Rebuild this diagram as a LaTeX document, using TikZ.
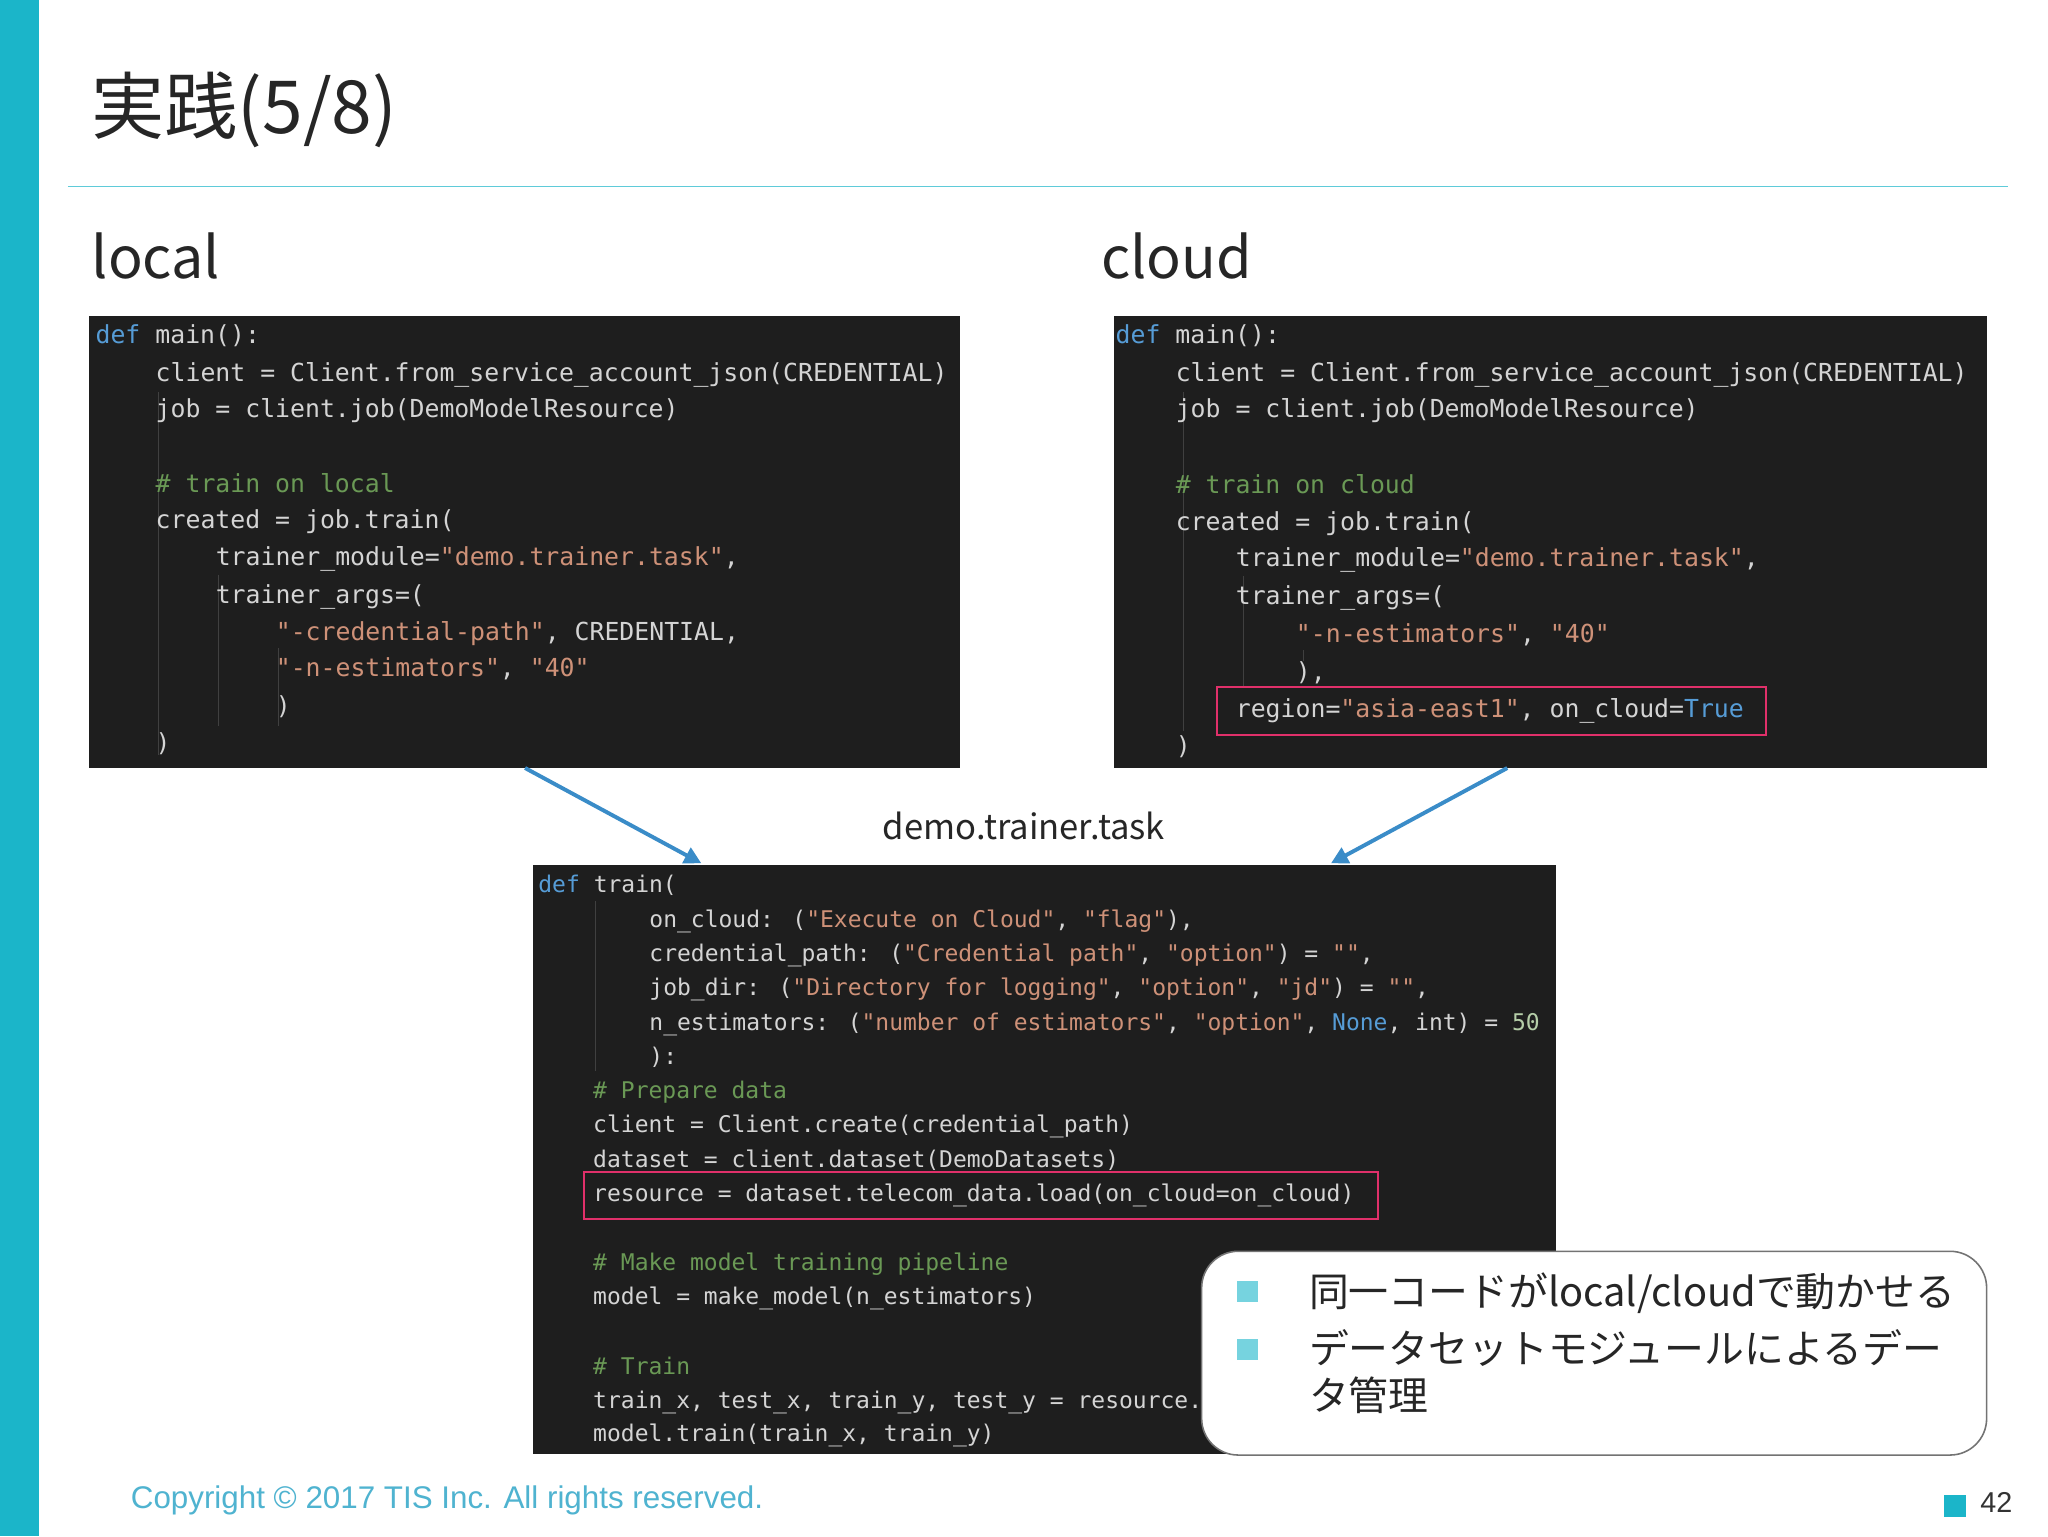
\documentclass[tikz,border=0pt]{standalone}
\usepackage{fontspec}
\usetikzlibrary{arrows.meta}
\newfontfamily\jp{Noto Sans CJK JP}
\newfontfamily\code{DejaVu Sans Mono}
\newfontfamily\cpy{Liberation Sans}
\definecolor{teal}{HTML}{1BB5C9}
\definecolor{codebg}{HTML}{1E1E1E}
\definecolor{codefg}{HTML}{D4D4D4}
\definecolor{kwc}{HTML}{569CD6}
\definecolor{stc}{HTML}{CE9178}
\definecolor{cmc}{HTML}{6A9955}
\definecolor{nmc}{HTML}{B5CEA8}
\definecolor{pinkc}{HTML}{E0306A}
\definecolor{arrc}{HTML}{3A8CC8}
\definecolor{guide}{HTML}{404040}
\definecolor{cpc}{HTML}{4FB3D0}
\newcommand\kw[1]{\textcolor{kwc}{#1}}
\newcommand\st[1]{\textcolor{stc}{#1}}
\newcommand\cm[1]{\textcolor{cmc}{#1}}
\newcommand\nm[1]{\textcolor{nmc}{#1}}
\tikzset{
 cl/.style={anchor=base west,inner sep=0,text=codefg,font=\code\fontsize{19}{19}\selectfont},
 cb/.style={anchor=base west,inner sep=0,text=codefg,font=\code\fontsize{17.6}{17.6}\selectfont},
 hl/.style={draw=pinkc,line width=1.5pt},
 gd/.style={draw=guide,line width=0.8pt},
 arr/.style={draw=arrc,line width=3pt,-{Triangle[length=13pt,width=13pt]}},
 bul/.style={fill=teal!60,minimum size=16pt,inner sep=0}
}
\begin{document}
\begin{tikzpicture}[x=1pt,y=-1pt]
\path[use as bounding box,fill=white] (0,0) rectangle (1568,1176);
\fill[teal] (0,0) rectangle (30,1176);
\node[anchor=base west,inner sep=0,font=\jp\fontsize{56}{56}\selectfont,text=black!85] (title) at (70,102) {実践(5/8)};
\draw[teal!70,line width=0.8pt] (52,143) -- (1537,143);
\node[anchor=base west,inner sep=0,font=\jp\fontsize{44}{44}\selectfont,text=black!85] (loc) at (70,213) {local};
\node[anchor=base west,inner sep=0,font=\jp\fontsize{44}{44}\selectfont,text=black!85] (cld) at (843,213) {cloud};
% boxes
\fill[codebg] (68,242) rectangle (735,588);
\fill[codebg] (853,242) rectangle (1521,588);
\fill[codebg] (408,662) rectangle (1191,1113);
% left code
\draw[gd] (121,300) -- (121,578);
\draw[gd] (167,440) -- (167,556);
\draw[gd] (213,496) -- (213,556);
\node[cl] (l1) at (73,263) {\kw{def} main():};
\node[cl] (l2) at (119,292) {client = Client.from\_service\_account\_json(CREDENTIAL)};
\node[cl] (l3) at (119,320) {job = client.job(DemoModelResource)};
\node[cl] (l5) at (119,377) {\cm{\# train on local}};
\node[cl] (l6) at (119,405) {created = job.train(};
\node[cl] (l7) at (165,433) {trainer\_module=\st{"demo.trainer.task"},};
\node[cl] (l8) at (165,462) {trainer\_args=(};
\node[cl] (l9) at (211,490) {\st{"-credential-path"}, CREDENTIAL,};
\node[cl] (l10) at (211,518) {\st{"-n-estimators"}, \st{"40"}};
\node[cl] (l11) at (211,547) {)};
\node[cl] (l12) at (119,575) {)};
% right code
\draw[gd] (906,300) -- (906,560);
\draw[gd] (952,441) -- (952,525);
\draw[gd] (998,498) -- (998,506);
\node[cl] (r1) at (854,263) {\kw{def} main():};
\node[cl] (r2) at (900,292) {client = Client.from\_service\_account\_json(CREDENTIAL)};
\node[cl] (r3) at (900,320) {job = client.job(DemoModelResource)};
\node[cl] (r5) at (900,378) {\cm{\# train on cloud}};
\node[cl] (r6) at (900,406) {created = job.train(};
\node[cl] (r7) at (946,434) {trainer\_module=\st{"demo.trainer.task"},};
\node[cl] (r8) at (946,463) {trainer\_args=(};
\node[cl] (r9) at (992,492) {\st{"-n-estimators"}, \st{"40"}};
\node[cl] (r10) at (992,521) {),};
\node[cl] (r11) at (946,549) {region=\st{"asia-east1"}, on\_cloud=\kw{True}};
\node[cl] (r12) at (900,578) {)};
\draw[hl] (932,526) rectangle (1352,563);
% bottom code
\draw[gd] (456,690) -- (456,820);
\node[cb] (b1) at (412,683) {\kw{def} train(};
\node[cb] (b2) at (497,710) {on\_cloud: (\st{"Execute on Cloud"}, \st{"flag"}),};
\node[cb] (b3) at (497,736) {credential\_path: (\st{"Credential path"}, \st{"option"}) = \st{""},};
\node[cb] (b4) at (497,762) {job\_dir: (\st{"Directory for logging"}, \st{"option"}, \st{"jd"}) = \st{""},};
\node[cb] (b5) at (497,789) {n\_estimators: (\st{"number of estimators"}, \st{"option"}, \kw{None}, int) = \nm{50}};
\node[cb] (b6) at (497,815) {):};
\node[cb] (b7) at (454,841) {\cm{\# Prepare data}};
\node[cb] (b8) at (454,867) {client = Client.create(credential\_path)};
\node[cb] (b9) at (454,894) {dataset = client.dataset(DemoDatasets)};
\node[cb] (b10) at (454,920) {resource = dataset.telecom\_data.load(on\_cloud=on\_cloud)};
\draw[hl] (447,897) rectangle (1055,933);
\node[cb] (b12) at (454,973) {\cm{\# Make model training pipeline}};
\node[cb] (b13) at (454,999) {model = make\_model(n\_estimators)};
\node[cb] (b15) at (454,1052) {\cm{\# Train}};
\node[cb] (b16) at (454,1078) {train\_x, test\_x, train\_y, test\_y = resource.split()};
\node[cb] (b17) at (454,1104) {model.train(train\_x, train\_y)};
% label and arrows
\node[anchor=base,inner sep=0,font=\jp\fontsize{26.5}{26.5}\selectfont,text=black!85] (task) at (784,643) {demo.trainer.task};
\coordinate (a1s) at (402,588); \coordinate (a1e) at (537,661);
\coordinate (a2s) at (1154,588); \coordinate (a2e) at (1019,661);
\draw[arr] (a1s) -- (a1e);
\draw[arr] (a2s) -- (a2e);
% callout
\draw[fill=white,draw=black!55,line width=1.2pt,rounded corners=28pt] (920,958) rectangle (1521,1114);
\node[bul] (s1) at (955,989) {};
\node[bul] (s2) at (955,1033) {};
\node[anchor=base west,inner sep=0,font=\jp\fontsize{30.5}{30.5}\selectfont,text=black!85] (t1) at (1002,1000) {同一コードがlocal/cloudで動かせる};
\node[anchor=base west,inner sep=0,font=\jp\fontsize{30.5}{30.5}\selectfont,text=black!85] (t2) at (1002,1044) {データセットモジュールによるデー};
\node[anchor=base west,inner sep=0,font=\jp\fontsize{30.5}{30.5}\selectfont,text=black!85] (t3) at (1002,1080) {タ管理};
% footer
\node[anchor=base west,inner sep=0,font=\cpy\fontsize{24}{24}\selectfont,text=cpc] (cp) at (100,1155) {Copyright © 2017 TIS Inc. All rights reserved.};
\node[fill=teal,minimum size=17pt,inner sep=0] (pg) at (1497,1153) {};
\node[anchor=base west,inner sep=0,font=\cpy\fontsize{22}{22}\selectfont,text=black!80] (pn) at (1516,1158) {42};
\end{tikzpicture}
\end{document}
